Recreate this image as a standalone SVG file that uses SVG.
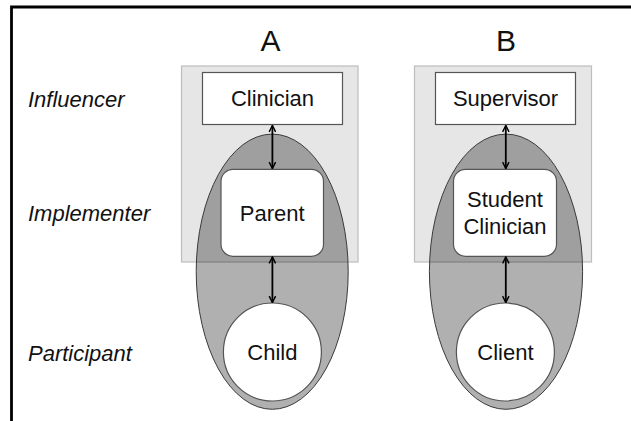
<svg xmlns="http://www.w3.org/2000/svg" width="631" height="421" viewBox="0 0 631 421">
  <defs>
    <marker id="head" viewBox="0 0 10 10" refX="9" refY="5" markerWidth="8" markerHeight="8" orient="auto-start-reverse" markerUnits="userSpaceOnUse">
      <path d="M1,1 L9,5 L1,9" fill="none" stroke="#000" stroke-width="1.8"/>
    </marker>
  </defs>
  <style>
    .lbl { font-family: "Liberation Sans", Arial, sans-serif; font-size: 22px; fill: #111; }
    .row { font-style: italic; }
    .col { font-size: 30px; text-anchor: middle; }
    .mid { text-anchor: middle; }
    .zone { fill: #e6e6e6; stroke: #bdbdbd; stroke-width: 1.2; }
    .oval { fill: #000; fill-opacity: 0.31; stroke: #3a3a3a; stroke-width: 1; }
    .box { fill: #fff; stroke: #555; stroke-width: 1.2; }
    .link { stroke: #000; stroke-width: 1.8; fill: none; marker-start: url(#head); marker-end: url(#head); }
  </style>

  <rect width="631" height="421" fill="#fff"/>
  <!-- frame -->
  <path d="M11.5,421 V7 H631" fill="none" stroke="#000" stroke-width="2.8"/>

  <!-- column headings -->
  <text class="lbl col" x="270.5" y="50.5">A</text>
  <text class="lbl col" x="506" y="50.5">B</text>

  <!-- role labels -->
  <text class="lbl row" x="28" y="107">Influencer</text>
  <text class="lbl row" x="28" y="221">Implementer</text>
  <text class="lbl row" x="28" y="360.5">Participant</text>

  <!-- column A -->
  <g id="zoneA">
    <rect class="zone" x="181.5" y="66" width="176.5" height="196"/>
    <ellipse class="oval" cx="272.2" cy="271.7" rx="76" ry="137.6"/>
  </g>
  <g id="clinician">
    <rect class="box" x="202.5" y="72.5" width="140" height="52"/>
    <text class="lbl mid" x="272.5" y="106">Clinician</text>
  </g>
  <g id="parent">
    <rect class="box" x="221" y="169.3" width="102.5" height="87" rx="12" ry="12"/>
    <text class="lbl mid" x="272.2" y="221">Parent</text>
  </g>
  <g id="child">
    <circle class="box" cx="272.4" cy="352" r="49"/>
    <text class="lbl mid" x="272.4" y="360">Child</text>
  </g>

  <!-- column B -->
  <g id="zoneB">
    <rect class="zone" x="414.5" y="66" width="177" height="196"/>
    <ellipse class="oval" cx="506" cy="271.7" rx="76.6" ry="137.6"/>
  </g>
  <g id="supervisor">
    <rect class="box" x="435.5" y="72.5" width="140" height="52"/>
    <text class="lbl mid" x="505.5" y="106">Supervisor</text>
  </g>
  <g id="student-clinician">
    <rect class="box" x="453.5" y="169.3" width="103" height="87" rx="12" ry="12"/>
    <text class="lbl mid" x="505" y="206.7">Student</text>
    <text class="lbl mid" x="505" y="234">Clinician</text>
  </g>
  <g id="client">
    <circle class="box" cx="505.4" cy="352" r="49"/>
    <text class="lbl mid" x="505.4" y="360">Client</text>
  </g>

  <!-- connectors -->
  <g id="connectors">
    <line class="link" x1="272.4" y1="125.5" x2="272.4" y2="168.5"/>
    <line class="link" x1="272.4" y1="257" x2="272.4" y2="302.5"/>
    <line class="link" x1="505.8" y1="125.5" x2="505.8" y2="168.5"/>
    <line class="link" x1="505.8" y1="257" x2="505.8" y2="302.5"/>
  </g>
</svg>
